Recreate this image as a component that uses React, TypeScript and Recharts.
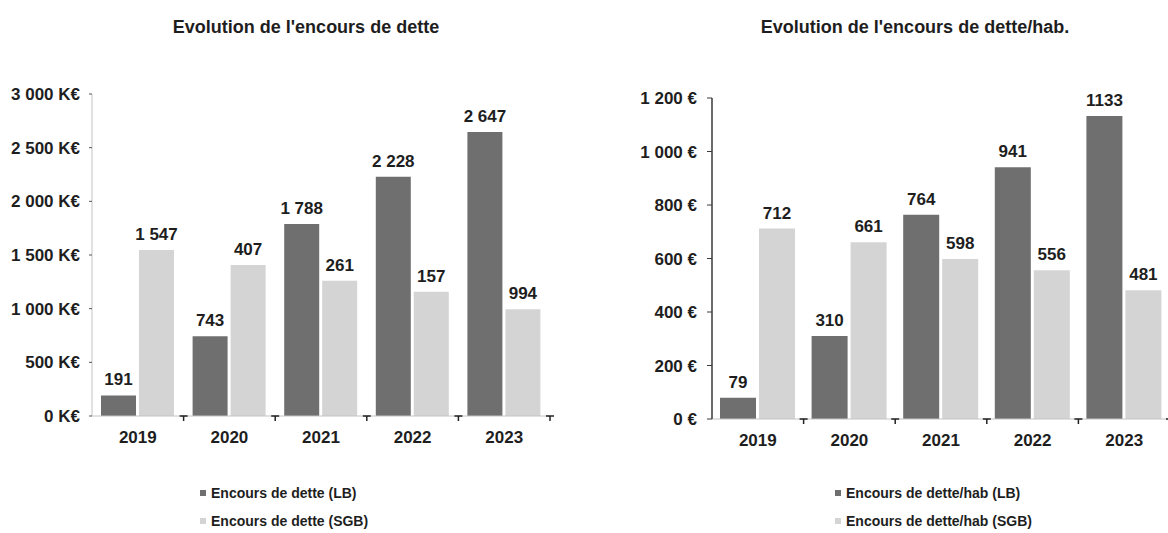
import { BarChart, Bar, XAxis, YAxis, LabelList, Legend } from "recharts";

const years = ["2019", "2020", "2021", "2022", "2023"];

// Evolution de l'encours de dette (K€)
const detteLB = [191, 743, 1788, 2228, 2647];
const detteSGB = [1547, 1407, 1261, 1157, 994];
const detteLBLabels = ["191", "743", "1 788", "2 228", "2 647"];
const detteSGBLabels = ["1 547", "407", "261", "157", "994"];
const detteTicks = [0, 500, 1000, 1500, 2000, 2500, 3000];

// Evolution de l'encours de dette/hab. (€)
const habLB = [79, 310, 764, 941, 1133];
const habSGB = [712, 661, 598, 556, 481];
const habTicks = [0, 200, 400, 600, 800, 1000, 1200];

const FONT = "'Liberation Sans', Arial, sans-serif";
const TEXT = "#1e1e1e";
const DARK = "#6f6f6f";
const LIGHT = "#d4d4d4";

const group = (v: number) => String(v).replace(/\B(?=(\d{3})+(?!\d))/g, " ");

const detteData = years.map((year, i) => ({
  year,
  lb: detteLB[i],
  sgb: detteSGB[i],
  lbLabel: detteLBLabels[i],
  sgbLabel: detteSGBLabels[i],
}));

const habData = years.map((year, i) => ({
  year,
  lb: habLB[i],
  sgb: habSGB[i],
  lbLabel: String(habLB[i]),
  sgbLabel: String(habSGB[i]),
}));

function YearTick(props: any) {
  const { x, payload, baseline, half } = props;
  const bx = x + (payload.offset || half);
  return (
    <g>
      <line x1={bx - 4} x2={bx + 4} y1={baseline} y2={baseline} stroke="#222" strokeWidth={1.5} />
      <line x1={bx} x2={bx} y1={baseline} y2={baseline + 5} stroke="#222" strokeWidth={1.5} />
      <text
        x={x}
        y={baseline + 27}
        textAnchor="middle"
        fontFamily={FONT}
        fontWeight="bold"
        fontSize={17}
        fill={TEXT}
      >
        {payload.value}
      </text>
    </g>
  );
}

// plain <text> so "1 547" stays on one line
function BarValue(props: any) {
  const { x, y, width, value } = props;
  return (
    <text
      x={x + width / 2}
      y={y - 10}
      textAnchor="middle"
      fontFamily={FONT}
      fontWeight="bold"
      fontSize={17}
      fill={TEXT}
    >
      {value}
    </text>
  );
}

function SeriesLegend(props: any) {
  const items = props.payload || [];
  return (
    <div style={{ fontFamily: FONT, fontWeight: "bold", fontSize: 14, color: TEXT }}>
      {items.map((it: any) => (
        <div key={it.value} style={{ display: "flex", alignItems: "center", height: 28 }}>
          <span style={{ width: 6, height: 6, background: it.color, marginRight: 5 }} />
          {it.value}
        </div>
      ))}
    </div>
  );
}

function Title({ text, center }: { text: string; center: number }) {
  return (
    <div
      style={{
        position: "absolute",
        left: center - 300,
        width: 600,
        top: 17,
        textAlign: "center",
        fontFamily: FONT,
        fontWeight: "bold",
        fontSize: 18,
        color: TEXT,
      }}
    >
      {text}
    </div>
  );
}

const tickStyle = { fontFamily: FONT, fontWeight: "bold", fontSize: 17, fill: TEXT };

export default function App() {
  return (
    <div
      style={{
        position: "absolute",
        left: 0,
        top: 0,
        width: 1168,
        height: 533,
        overflow: "hidden",
        background: "#fff",
      }}
    >
      <Title text="Evolution de l'encours de dette" center={306} />
      <Title text="Evolution de l'encours de dette/hab." center={915} />

      <div style={{ position: "absolute", left: 0, top: 0 }}>
        <BarChart
          width={580}
          height={533}
          data={detteData}
          margin={{ top: 94, right: 30, left: 0, bottom: 87 }}
          barSize={35}
          barGap={3}
        >
          <XAxis
            dataKey="year"
            height={30}
            axisLine={{ stroke: "#c4c4c4" }}
            tickLine={false}
            interval={0}
            tick={(p: any) => <YearTick {...p} baseline={416} half={45.8} />}
          />
          <YAxis
            width={92}
            domain={[0, 3000]}
            ticks={detteTicks}
            interval={0}
            axisLine={{ stroke: "#c4c4c4" }}
            tickLine={{ stroke: "#555" }}
            tickSize={3}
            tickMargin={9}
            tickFormatter={(v: number) => `${group(v)} K€`}
            tick={tickStyle}
          />
          <Legend
            layout="horizontal"
            verticalAlign="middle"
            align="center"
            wrapperStyle={{ left: 200, top: 479, width: "auto" }}
            content={(p: any) => <SeriesLegend {...p} />}
          />
          <Bar dataKey="lb" name="Encours de dette (LB)" fill={DARK} isAnimationActive={false}>
            <LabelList dataKey="lbLabel" content={(p: any) => <BarValue {...p} />} />
          </Bar>
          <Bar dataKey="sgb" name="Encours de dette (SGB)" fill={LIGHT} isAnimationActive={false}>
            <LabelList dataKey="sgbLabel" content={(p: any) => <BarValue {...p} />} />
          </Bar>
        </BarChart>
      </div>

      <div style={{ position: "absolute", left: 590, top: 0 }}>
        <BarChart
          width={590}
          height={533}
          data={habData}
          margin={{ top: 98, right: 10, left: 0, bottom: 84 }}
          barSize={36}
          barGap={3}
        >
          <XAxis
            dataKey="year"
            height={30}
            axisLine={{ stroke: "#c4c4c4" }}
            tickLine={false}
            interval={0}
            tick={(p: any) => <YearTick {...p} baseline={419} half={45.8} />}
          />
          <YAxis
            width={122}
            domain={[0, 1200]}
            ticks={habTicks}
            interval={0}
            axisLine={{ stroke: "#3a3a3a", strokeWidth: 1.5 }}
            tickLine={{ stroke: "#3a3a3a" }}
            tickSize={5}
            tickMargin={10}
            tickFormatter={(v: number) => `${group(v)} €`}
            tick={tickStyle}
          />
          <Legend
            layout="horizontal"
            verticalAlign="middle"
            align="center"
            wrapperStyle={{ left: 245, top: 479, width: "auto" }}
            content={(p: any) => <SeriesLegend {...p} />}
          />
          <Bar dataKey="lb" name="Encours de dette/hab (LB)" fill={DARK} isAnimationActive={false}>
            <LabelList dataKey="lbLabel" content={(p: any) => <BarValue {...p} />} />
          </Bar>
          <Bar dataKey="sgb" name="Encours de dette/hab (SGB)" fill={LIGHT} isAnimationActive={false}>
            <LabelList dataKey="sgbLabel" content={(p: any) => <BarValue {...p} />} />
          </Bar>
        </BarChart>
      </div>
    </div>
  );
}
